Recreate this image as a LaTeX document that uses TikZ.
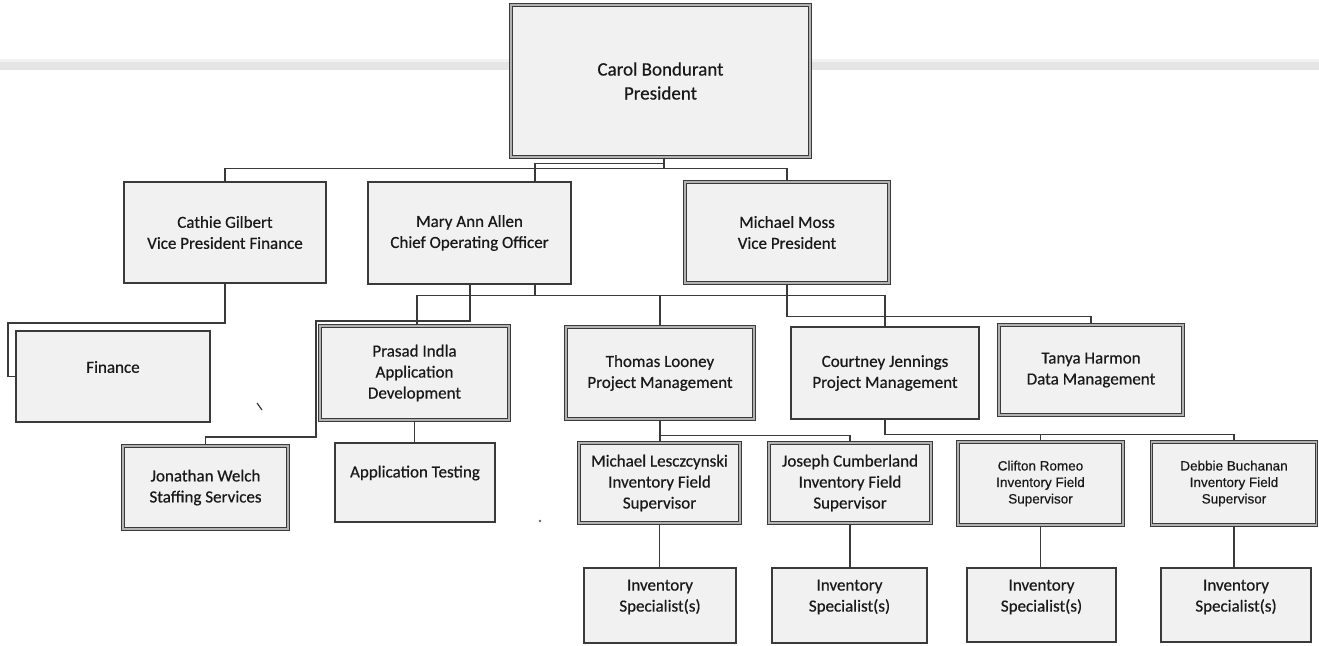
\documentclass[tikz,border=0pt]{standalone}
\usepackage{fontspec}
\setmainfont{Carlito}[FakeBold=0.5]
\newfontface\scanface{Carlito}[FakeBold=0.5]
\newfontface\smallsans{Liberation Sans}[FakeBold=0.4]
\definecolor{ln}{HTML}{3A3A3A}
\definecolor{bx}{HTML}{F1F1F1}
\tikzset{
  boxbase/.style={draw=ln, fill=bx, inner sep=0pt, align=center, text=black!90,
                  font=\scanface\fontsize{17}{21}\selectfont},
  sbox/.style={boxbase, line width=1.2pt},
  dbox/.style={boxbase, line width=1.1pt, double=black!30, double distance=1.6pt},
  txt/.style={inner sep=0pt, align=center, text=black!90, font=\scanface\fontsize{17}{21}\selectfont},
  smalltxt/.style={font=\smallsans\fontsize{13.5}{16.5}\selectfont},
  conn/.style={draw=ln, line width=1.3pt},
}
\begin{document}
\begin{tikzpicture}[x=1pt,y=-1pt]
\useasboundingbox (0,0) rectangle (1319,645);
% scan band
\fill[black!10] (0,62) rectangle (1319,70);
\fill[black!5] (0,59) rectangle (1319,62);

% top level
\node[dbox, minimum width=299pt, minimum height=152pt, font=\scanface\fontsize{19}{24}\selectfont] (carol) at (660.5,81) {Carol Bondurant\\President};

% second row
\node[sbox, minimum width=202pt, minimum height=101pt] (cathie) at (225,232.5) {Cathie Gilbert\\Vice President Finance};
\node[sbox, minimum width=203pt, minimum height=102pt] (mary) at (469.5,233) {Mary Ann Allen\\Chief Operating Officer};
\node[dbox, minimum width=204pt, minimum height=101pt] (michael) at (787,232.5) {Michael Moss\\Vice President};

% third row
\node[sbox, minimum width=194pt, minimum height=91pt] (finance) at (113,376.5) {};
\node[txt] (financeT) at (113,367) {Finance};
\node[dbox, minimum width=189pt, minimum height=94pt] (prasad) at (414.5,373) {Prasad Indla\\Application\\Development};
\node[dbox, minimum width=188pt, minimum height=92pt] (thomas) at (660,373) {Thomas Looney\\Project Management};
\node[sbox, minimum width=188pt, minimum height=92pt] (courtney) at (885,373) {Courtney Jennings\\Project Management};
\node[dbox, minimum width=184pt, minimum height=90pt] (tanya) at (1091,370) {Tanya Harmon\\Data Management};

% fourth row
\node[dbox, minimum width=165pt, minimum height=83pt] (jonathan) at (205.5,487.5) {Jonathan Welch\\Staffing Services};
\node[sbox, minimum width=160pt, minimum height=79pt] (apptest) at (415,482.5) {};
\node[txt] (apptestT) at (415,473) {Application Testing};
\node[dbox, minimum width=161pt, minimum height=80pt] (mlesc) at (659.5,483) {Michael Lesczcynski\\Inventory Field\\Supervisor};
\node[dbox, minimum width=162pt, minimum height=80pt] (joseph) at (850,483) {Joseph Cumberland\\Inventory Field\\Supervisor};
\node[dbox, smalltxt, minimum width=165pt, minimum height=83pt] (clifton) at (1040.5,483.5) {Clifton Romeo\\Inventory Field\\Supervisor};
\node[dbox, smalltxt, minimum width=165pt, minimum height=83pt] (debbie) at (1234,483.5) {Debbie Buchanan\\Inventory Field\\Supervisor};

% specialists
\node[sbox, minimum width=152pt, minimum height=75pt] (spec1) at (660,605.5) {};
\node[txt] (spec1T) at (660,597) {Inventory\\Specialist(s)};
\node[sbox, minimum width=155pt, minimum height=75pt] (spec2) at (849.5,605.5) {};
\node[txt] (spec2T) at (849.5,597) {Inventory\\Specialist(s)};
\node[sbox, minimum width=149pt, minimum height=74pt] (spec3) at (1041.5,605) {};
\node[txt] (spec3T) at (1041.5,597) {Inventory\\Specialist(s)};
\node[sbox, minimum width=150pt, minimum height=74pt] (spec4) at (1236,605) {};
\node[txt] (spec4T) at (1236,597) {Inventory\\Specialist(s)};

% connectors
\coordinate (fin1) at (8,323);
\coordinate (jw1) at (316,321);
\coordinate (jw2) at (316,437);
\draw[conn] ([xshift=3.5pt]carol.south) -- ++(0,11) -| (cathie.north);
\draw[conn] ([xshift=3.5pt]carol.south) -- ++(0,11) -| (michael.north);
\draw[conn] ([xshift=3.5pt]carol.south) -- ++(0,6) -| ([xshift=65.5pt]mary.north);
\draw[conn] (cathie.south) |- (fin1) |- (finance.west);
\draw[conn] ([xshift=65.5pt]mary.south) -- ++(0,11) -| ([xshift=2.5pt]prasad.north);
\draw[conn] ([xshift=65.5pt]mary.south) -- ++(0,11) -| (thomas.north);
\draw[conn] ([xshift=65.5pt]mary.south) -- ++(0,11) -| (courtney.north);
\draw[conn] ([xshift=0.5pt]mary.south) |- (jw1) -- (jw2) -| (jonathan.north);
\draw[conn] (michael.south) -- ++(0,33) -| (tanya.north);
\draw[conn] (prasad.south) -- (prasad.south |- apptest.north);
\draw[conn] (thomas.south) -- ++(0,16) -| (joseph.north);
\draw[conn] (thomas.south) -- (thomas.south |- mlesc.north);
\draw[conn] (courtney.south) -- ++(0,15) -| (clifton.north);
\draw[conn] (courtney.south) -- ++(0,15) -| (debbie.north);
\draw[conn] (mlesc.south) -- (mlesc.south |- spec1.north);
\draw[conn] (joseph.south) -- (joseph.south |- spec2.north);
\draw[conn] (clifton.south) -- (clifton.south |- spec3.north);
\draw[conn] (debbie.south) -- (debbie.south |- spec4.north);

% scan specks
\draw[ln, line width=1.2pt] (257,403) -- (262,410);
\fill[black!60] (540,521) circle (1.3pt);
\end{tikzpicture}
\end{document}
